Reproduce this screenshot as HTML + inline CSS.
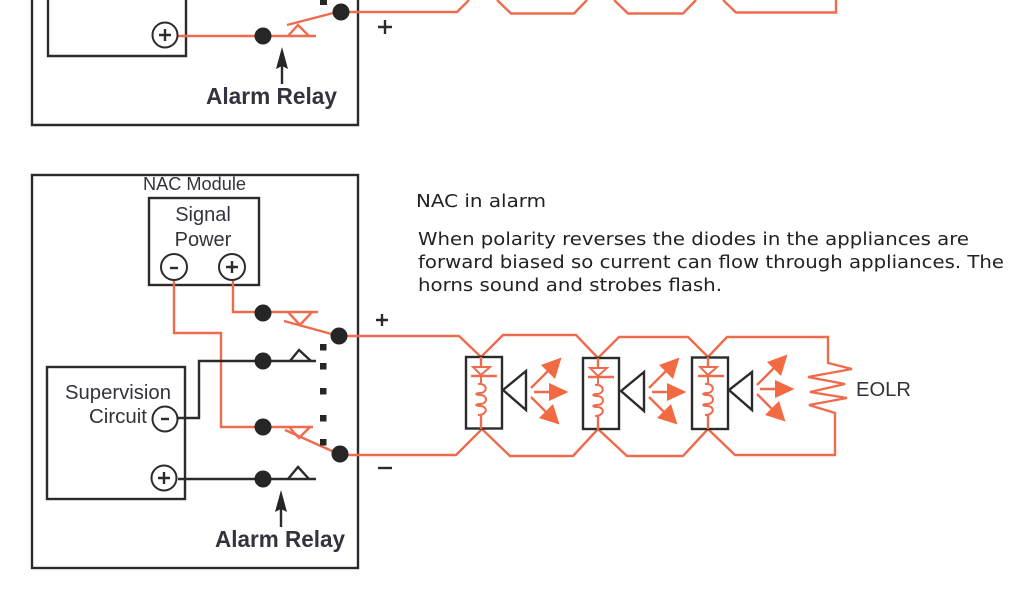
<!DOCTYPE html>
<html><head><meta charset="utf-8"><style>
html,body{margin:0;padding:0;background:#fff}
svg{display:block;filter:blur(0.3px)}
.k{fill:none;stroke:#2b2b2b;stroke-width:2.4}
.o{fill:none;stroke:#ee6c4d;stroke-width:2.4;stroke-linejoin:miter}
.t{fill:none;stroke:#ee6c4d;stroke-width:2}
.oa{fill:#f26a42;stroke:none}
.d{fill:#262626}
.c{fill:#fff;stroke:#2b2b2b;stroke-width:2}
.s{font-family:"Liberation Sans",sans-serif;fill:#33333d}
.v{font-family:"DejaVu Sans",sans-serif;fill:#222;font-size:18px}
</style></head><body>
<svg width="1024" height="600" viewBox="0 0 1024 600" xmlns="http://www.w3.org/2000/svg">
<defs>
<g id="coil">
<path class="o" d="M0 0V10"/>
<path class="t" d="M-8 10H9L0 18Z"/>
<path class="o" d="M-10 19H16"/>
<path class="t" d="M0 19V27 M-3 27C7 26 7 36 -1 36C-6 36 -6 38 -1 38C7 38 7 47 -1 47C-6 47 -6 49 -1 49C7 49 7 58 -3 58"/>
<path class="o" d="M0 58V72"/>
</g>
<g id="ar">
<path class="o" d="M531 388L550 369M534 392H554M531 397L549 415"/>
<path class="oa" d="M561.500 357.500L555 379L541 365Z M568.500 392L549 401V383Z M559.500 424.500L539 418L553 404Z"/>
</g>
</defs>

<!-- top fragment -->
<path class="k" d="M32 0V125H358V0"/>
<path class="k" d="M48 0V56H186V0"/>
<path class="o" d="M178 36H316"/>
<path class="o" d="M288 36L298 25L309 36"/>
<path class="o" d="M287 25L341 11"/>
<path class="o" d="M341 12H457L469 0M497 0L511 13.500H574L587 0M614 0L628 13.500H683L696 0M723 0L736 12.500H836V0"/>
<circle class="c" cx="165" cy="35" r="12.500"/>
<path class="k" d="M159 35H171M165 29V41"/>
<circle class="d" cx="263" cy="36" r="8.500"/>
<circle class="d" cx="341" cy="12" r="8.500"/>
<rect class="d" x="320" y="0" width="7" height="5"/>
<path class="k" d="M378 27H392M385 20V34"/>
<path class="k" d="M282 84V60"/>
<path class="d" d="M282 47L288 69L282 66L276 69Z"/>
<text class="s" x="206" y="104" font-size="23.500" font-weight="bold" textLength="131" lengthAdjust="spacingAndGlyphs">Alarm Relay</text>

<!-- bottom module -->
<rect class="k" x="32" y="175" width="326" height="393"/>
<text class="s" x="143" y="190" font-size="18" textLength="103" lengthAdjust="spacingAndGlyphs">NAC Module</text>
<rect class="k" x="149" y="198" width="110" height="87"/>
<text class="s" x="203" y="221" font-size="20" text-anchor="middle">Signal</text>
<text class="s" x="203" y="246" font-size="20" text-anchor="middle">Power</text>

<path class="o" d="M174 280V333H221V427H313"/>
<path class="o" d="M233 280V312H318"/>
<path class="o" d="M288 312L300 325L312 312"/>
<path class="o" d="M284 321L339 336"/>
<path class="o" d="M290 428L299 438L310 427"/>
<path class="o" d="M285 430L341 455"/>
<circle class="c" cx="174" cy="267" r="13"/>
<path class="k" d="M170 268H178"/>
<circle class="c" cx="232" cy="267" r="13"/>
<path class="k" d="M226 267H238M232 261V273"/>

<rect class="k" x="47" y="367" width="138" height="132"/>
<text class="s" x="65" y="399" font-size="20" textLength="106" lengthAdjust="spacingAndGlyphs">Supervision</text>
<text class="s" x="89" y="423" font-size="20" textLength="58" lengthAdjust="spacingAndGlyphs">Circuit</text>
<path class="k" d="M178 418H199V361H316"/>
<path class="k" d="M290 361L299 350L311 361"/>
<path class="k" d="M178 479H316"/>
<path class="k" d="M288 479L298 467L309 479"/>
<circle class="c" cx="165" cy="419" r="12.500"/>
<path class="k" d="M161 419H169"/>
<circle class="c" cx="164" cy="478" r="12.500"/>
<path class="k" d="M158 478H170M164 472V484"/>

<rect class="d" x="320" y="344" width="6.500" height="6.500"/>
<rect class="d" x="320" y="363" width="6.500" height="6.500"/>
<rect class="d" x="320" y="388" width="6.500" height="6.500"/>
<rect class="d" x="320" y="415" width="6.500" height="6.500"/>
<rect class="d" x="320" y="439" width="6.500" height="6.500"/>

<path class="k" d="M281 527V503"/>
<path class="d" d="M281 490L287 512L281 509L275 512Z"/>
<text class="s" x="215" y="547" font-size="23.500" font-weight="bold" textLength="130" lengthAdjust="spacingAndGlyphs">Alarm Relay</text>

<path class="k" d="M376 320H388M382 314V326"/>
<path class="k" d="M378 468H392"/>

<!-- wires -->
<path class="o" d="M339 336H459L481 357L503 335H576L598 358L619 337H688L708 357L727 337H828V363L852 369L808 377L845 384L810 392L847 398L809 405L835 413V455H735L708 429L683 456H627L598 429L573 456H510L482 429L456 455H340"/>

<!-- terminals drawn over wires -->
<circle class="d" cx="263" cy="313" r="8.500"/>
<circle class="d" cx="263" cy="361" r="8.500"/>
<circle class="d" cx="263" cy="427" r="8.500"/>
<circle class="d" cx="263" cy="479" r="8.500"/>
<circle class="d" cx="339" cy="336" r="8.500"/>
<circle class="d" cx="340" cy="454" r="8.500"/>

<!-- appliance 1 -->
<rect class="k" x="466" y="357" width="36" height="71.500"/>
<use href="#coil" x="481" y="357"/>
<path class="k" d="M503 390L526 371V410Z"/>
<use href="#ar"/>

<!-- appliance 2 -->
<rect class="k" x="583" y="358" width="36" height="71"/>
<use href="#coil" x="598" y="358"/>
<path class="k" d="M621 391L644 372V411Z"/>
<use href="#ar" x="118" y="0"/>

<!-- appliance 3 -->
<rect class="k" x="692" y="357.500" width="36" height="71.500"/>
<use href="#coil" x="708" y="357"/>
<path class="k" d="M729 390L752 372V410Z"/>
<use href="#ar" x="226" y="-3"/>

<text class="s" x="856" y="396" font-size="20" textLength="55" lengthAdjust="spacingAndGlyphs">EOLR</text>

<!-- description -->
<text class="v" x="416" y="207" textLength="130" lengthAdjust="spacingAndGlyphs">NAC in alarm</text>
<text class="v" x="418" y="245" textLength="551" lengthAdjust="spacingAndGlyphs">When polarity reverses the diodes in the appliances are</text>
<text class="v" x="418" y="268" textLength="586" lengthAdjust="spacingAndGlyphs">forward biased so current can flow through appliances. The</text>
<text class="v" x="418" y="291" textLength="304" lengthAdjust="spacingAndGlyphs">horns sound and strobes flash.</text>
</svg>
</body></html>
